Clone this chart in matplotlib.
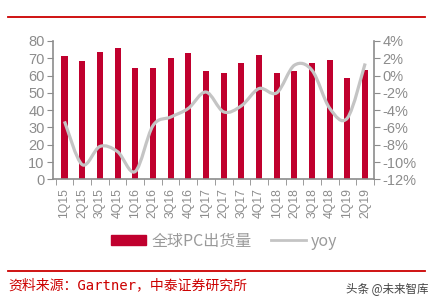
import matplotlib
matplotlib.use("Agg")
import matplotlib.pyplot as plt
import numpy as np
from matplotlib.path import Path
from matplotlib.patches import PathPatch, Patch
from matplotlib.lines import Line2D

quarters = ["1Q15", "2Q15", "3Q15", "4Q15", "1Q16", "2Q16", "3Q16", "4Q16",
            "1Q17", "2Q17", "3Q17", "4Q17", "1Q18", "2Q18", "3Q18", "4Q18",
            "1Q19", "2Q19"]
shipments = [71.6, 68.2, 73.6, 75.7, 64.1, 64.1, 69.9, 73.0,
             62.8, 61.4, 67.4, 71.9, 61.4, 62.6, 67.4, 69.0,
             58.5, 63.4]
yoy = [-5.3, -10.3, -8.2, -8.8, -11.1, -5.8, -4.8, -3.8,
       -1.9, -4.2, -3.5, -1.5, -2.0, 1.2, 0.6, -3.8,
       -4.9, 1.4]
left_ticks = [0, 10, 20, 30, 40, 50, 60, 70, 80]
right_ticks = [-12, -10, -8, -6, -4, -2, 0, 2, 4]

plt.rcParams['font.family'] = ['Liberation Sans', 'Noto Sans CJK SC', 'DejaVu Sans']

W, H = 437, 303
fig = plt.figure(figsize=(W / 100, H / 100), dpi=100)
ax = fig.add_axes([53 / W, 1 - 179.3 / H, (374 - 53) / W, (179.3 - 41) / H])
ax2 = ax.twinx()

gray = "#8c8c8c"
red_bar = "#C0002E"
line_col = "#c4c4c4"

x = np.arange(len(quarters))
ax.bar(x, shipments, width=0.34, color=red_bar, zorder=2)
ax.set_ylim(0, 80)
ax.set_yticks(left_ticks)
ax.set_xlim(-0.65, len(quarters) - 1 + 0.47)
ax.set_xticks(x)
ax.set_xticklabels(quarters, rotation=90)
ax.set_xticks(np.arange(-0.5, len(quarters) - 0.4, 1.0), minor=True)
ax.tick_params(axis='x', which='major', length=0, pad=6, labelsize=8.8, labelcolor=gray)
ax.tick_params(axis='x', which='minor', length=4, color=gray, direction='out')
ax.tick_params(axis='y', length=4, color=gray, labelsize=10.5, labelcolor=gray, pad=2)

# smooth yoy curve (Catmull-Rom through data points)
pts = np.column_stack([x, yoy]).astype(float)
verts = [tuple(pts[0])]
codes = [Path.MOVETO]
n = len(pts)
for i in range(n - 1):
    p0 = pts[i - 1] if i > 0 else pts[i]
    p1 = pts[i]
    p2 = pts[i + 1]
    p3 = pts[i + 2] if i + 2 < n else pts[i + 1]
    c1 = p1 + (p2 - p0) / 6
    c2 = p2 - (p3 - p1) / 6
    verts += [tuple(c1), tuple(c2), tuple(p2)]
    codes += [Path.CURVE4] * 3
ax2.add_patch(PathPatch(Path(verts, codes), facecolor='none', edgecolor=line_col,
                        lw=2.3, zorder=3))
ax2.set_ylim(-12, 4)
ax2.set_yticks(right_ticks)
ax2.set_yticklabels([f"{v}%" for v in right_ticks])
ax2.tick_params(axis='y', length=4, color=gray, labelsize=10.5, labelcolor=gray, pad=2)

for a in (ax, ax2):
    a.spines['top'].set_visible(False)
    for s in ('left', 'right', 'bottom'):
        a.spines[s].set_color(gray)
        a.spines[s].set_linewidth(1.2)
ax.spines['right'].set_visible(False)
ax2.spines['left'].set_visible(False)
ax2.spines['bottom'].set_visible(False)

handles = [Patch(color=red_bar), Line2D([], [], color=line_col, lw=2)]
fig.legend(handles, ["全球PC出货量", "yoy"], loc='center', bbox_to_anchor=(0.513, 1 - 241 / H),
           ncol=2, frameon=False, handlelength=2.2, handleheight=0.6, columnspacing=1.2,
           handletextpad=0.3, prop={'family': ['Noto Sans CJK SC'], 'size': 11.5},
           labelcolor="#9a9a9a")

# decorative lines
fig.add_artist(Line2D([8 / W, 425 / W], [1 - 17 / H, 1 - 17 / H], color="#cc0000", lw=1.3))
fig.add_artist(Line2D([8 / W, 425 / W], [1 - 271 / H, 1 - 271 / H], color="#cc0000", lw=1.3))

fig.text(8 / W, 1 - 285 / H, "资料来源：Gartner，中泰证券研究所", color="#cc0000",
         fontsize=10, va='center', ha='left',
         family=['DejaVu Sans Mono', 'Noto Sans CJK SC'])
fig.text(428 / W, 1 - 289 / H, "头条 @未来智库", color="#444444", fontsize=8.3,
         va='center', ha='right', family=['Noto Sans CJK SC', 'DejaVu Sans'])

fig.savefig("out.png", dpi=100)
